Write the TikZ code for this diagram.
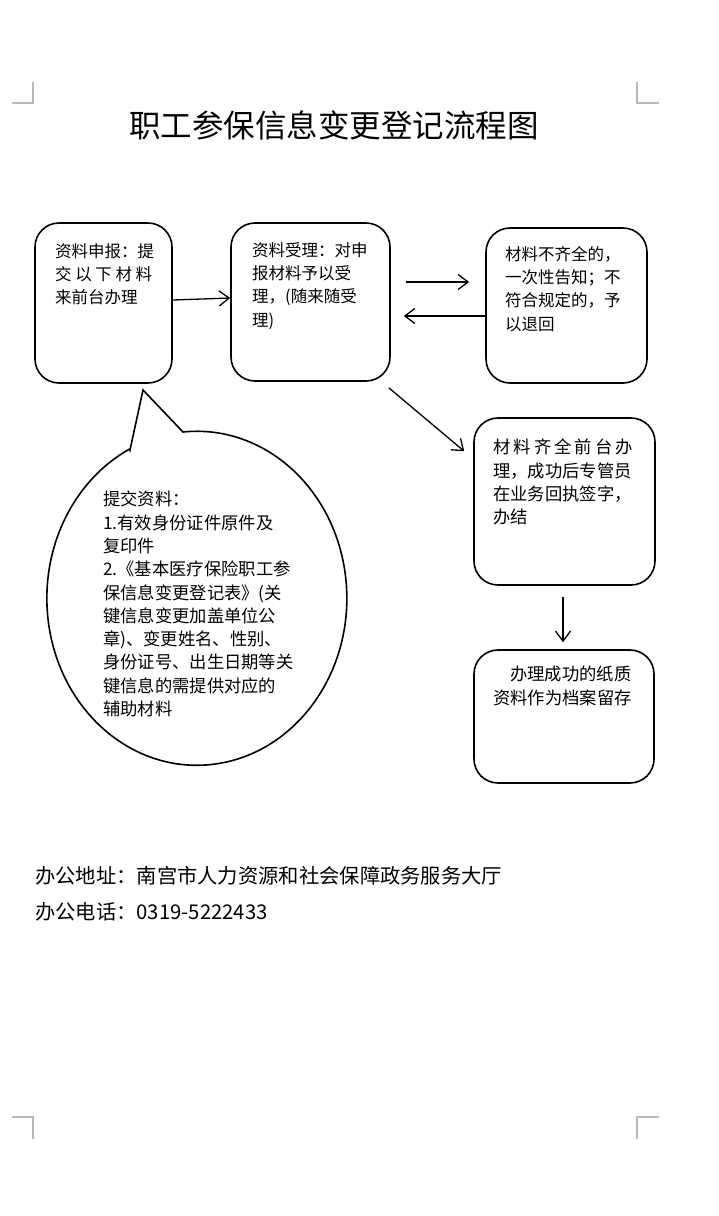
\documentclass[tikz,border=0pt]{standalone}
\usepackage{fontspec}
\setmainfont{Noto Sans CJK SC}
\usetikzlibrary{arrows.meta}
\tikzset{
  box/.style={draw, line width=1.6pt, rounded corners=24pt, inner sep=0pt},
  txt/.style={anchor=north west, inner sep=0pt, align=left, font=\fontsize{16.5}{23.3}\selectfont},
  txtb/.style={anchor=north west, inner sep=0pt, align=left, font=\fontsize{17.3}{23.3}\selectfont},
  arr/.style={line width=1.3pt, -{Straight Barb[length=10pt,width=15pt,line width=1.3pt]}},
  crop/.style={draw=black!28, line width=1.5pt},
}
\begin{document}
\begin{tikzpicture}[x=1pt,y=-1pt]
\useasboundingbox (0,0) rectangle (719,1216);
\fill[white] (0,0) rectangle (719,1216);

% crop marks
\draw[crop] (33,82) -- (33,103) -- (12,103);
\draw[crop] (637,82) -- (637,103) -- (659,103);
\draw[crop] (12,1117) -- (33,1117) -- (33,1139);
\draw[crop] (659,1117) -- (637,1117) -- (637,1139);

% title
\node[anchor=north west, inner sep=0pt, font=\fontsize{31.5}{36}\selectfont] (title) at (129,111) {职工参保信息变更登记流程图};

% boxes
\node[box, minimum width=137pt, minimum height=160pt] (A) at (103.5,303) {};
\node[box, minimum width=159pt, minimum height=158pt] (B) at (310.5,302) {};
\node[box, minimum width=161pt, minimum height=155pt] (C) at (566.5,305.5) {};
\node[box, minimum width=181pt, minimum height=167pt] (D) at (564.5,501.5) {};
\node[box, minimum width=180pt, minimum height=133pt] (E) at (564,716.5) {};

% box texts
\node[txt] (At) at (55,243) {资料申报：提\\\makebox[97pt][s]{交\hfill 以\hfill 下\hfill 材\hfill 料}\\来前台办理};
\node[txt] (Bt) at (252,242) {资料受理：对申\\报材料予以受\\理，(随来随受\\理)};
\node[txt] (Ct) at (505,246) {材料不齐全的，\\一次性告知；不\\符合规定的，予\\以退回};
\node[txtb] (Dt) at (493,439) {\makebox[140pt][s]{材\hfill 料\hfill 齐\hfill 全\hfill 前\hfill 台\hfill 办}\\理，成功后专管员\\在业务回执签字，\\办结};
\node[txtb] (Et) at (493,666) {\hspace*{17pt}办理成功的纸质\\资料作为档案留存};

% speech bubble
\draw[line width=1.6pt, fill=white] (130,450) -- (143,390) -- (183,432)
  arc[start angle=-95.3, end angle=243.4, x radius=150, y radius=167] -- cycle;
\node[txtb] (Ft) at (103,491) {提交资料：\\1.有效身份证件原件及\\复印件\\2.《基本医疗保险职工参\\保信息变更登记表》(关\\键信息变更加盖单位公\\章)、变更姓名、性别、\\身份证号、出生日期等关\\键信息的需提供对应的\\辅助材料};

% connectors
\draw[arr] (A.east |- 0,300) -- (B.west |- 0,298);
\draw[arr, shorten <=15pt, shorten >=16pt] (B.east |- 0,282) -- (C.west |- 0,282);
\draw[arr, shorten >=13pt] (C.west |- 0,316) -- (B.east |- 0,316);
\draw[arr] ([xshift=-2pt,yshift=-6pt]B.south east) -- ([xshift=-9pt,yshift=-34pt]D.north west);
\draw[arr, shorten <=11pt, shorten >=7pt] (D.south -| 563,0) -- (E.north -| 563,0);

% footer
\node[anchor=north west, inner sep=0pt, font=\fontsize{20.3}{26}\selectfont] (addr) at (35,866) {办公地址：南宫市人力资源和社会保障政务服务大厅};
\node[anchor=north west, inner sep=0pt, font=\fontsize{20.3}{26}\selectfont] (tel) at (35,902) {办公电话：0319-5222433};
\end{tikzpicture}
\end{document}
